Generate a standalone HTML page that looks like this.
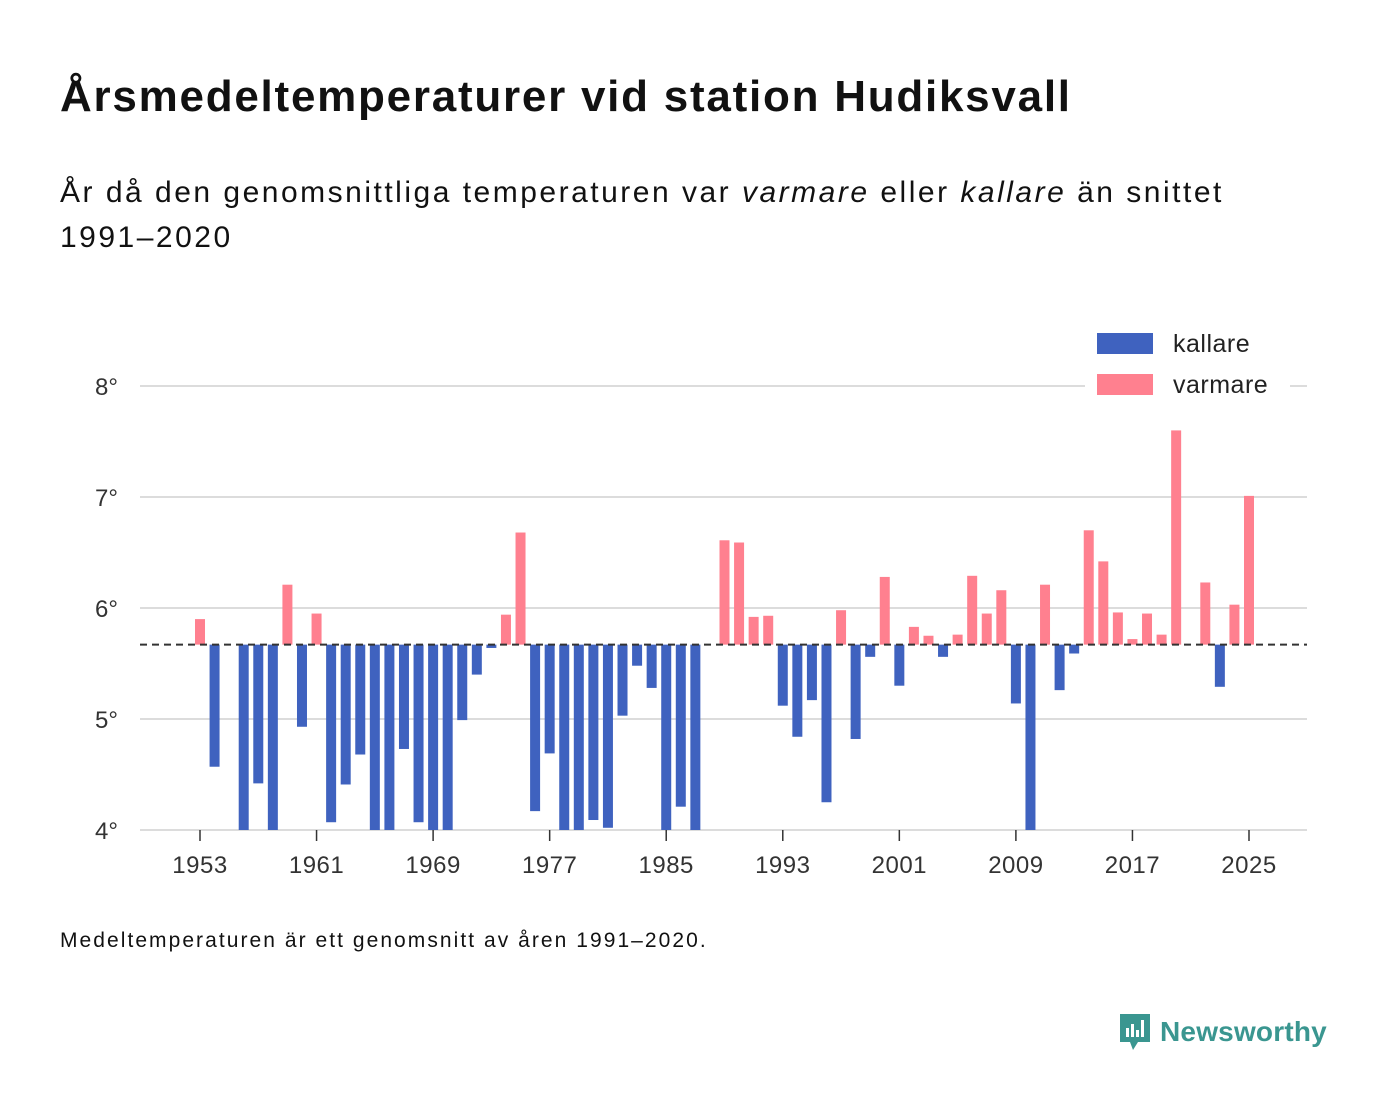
<!DOCTYPE html>
<html><head><meta charset="utf-8">
<style>
body{margin:0;background:#fff;width:1400px;height:1116px;overflow:hidden;font-family:"Liberation Sans","DejaVu Sans",sans-serif;color:#111;}
#title{position:absolute;left:60px;top:72px;font-size:44px;letter-spacing:1.75px;font-weight:bold;margin:0;color:#111;white-space:nowrap;}
#sub{position:absolute;left:60px;top:170px;font-size:30px;letter-spacing:2.5px;line-height:45px;width:1300px;margin:0;color:#111;}
#note{position:absolute;left:60px;top:929px;font-size:21px;letter-spacing:2.05px;color:#111;}
#logo{position:absolute;left:1118px;top:1012px;display:flex;align-items:center;gap:8px;color:#3a9690;font-weight:bold;font-size:28px;letter-spacing:0.2px;}
svg{position:absolute;left:0;top:0}
</style></head><body>
<h1 id="title">Årsmedeltemperaturer vid station Hudiksvall</h1>
<p id="sub">År då den genomsnittliga temperaturen var <i>varmare</i> eller <i>kallare</i> än snittet<br>1991–2020</p>
<svg id="chart" width="1400" height="1116"></svg>
<div id="note">Medeltemperaturen är ett genomsnitt av åren 1991–2020.</div>
<div id="logo">
<svg width="34" height="40" viewBox="0 0 34 40" style="position:static"><path d="M2 2h30v28H20l-5 8-3-8H2z" fill="#3a9690"/><rect x="8" y="16" width="3" height="9" fill="#fff"/><rect x="13" y="12" width="3" height="13" fill="#fff"/><rect x="18" y="18" width="3" height="7" fill="#fff"/><rect x="23" y="8" width="3" height="17" fill="#fff"/></svg>
<span>Newsworthy</span></div>
<script>
const years=[1953,1954,1956,1957,1958,1959,1960,1961,1962,1963,1964,1965,1966,1967,1968,1969,1970,1971,1972,1973,1974,1975,1976,1977,1978,1979,1980,1981,1982,1983,1984,1985,1986,1987,1989,1990,1991,1992,1993,1994,1995,1996,1997,1998,1999,2000,2001,2002,2003,2004,2005,2006,2007,2008,2009,2010,2011,2012,2013,2014,2015,2016,2017,2018,2019,2020,2022,2023,2024,2025];
const temps=[5.90,4.57,3.9,4.42,3.9,6.21,4.93,5.95,4.07,4.41,4.68,3.9,3.9,4.73,4.07,3.9,3.9,4.99,5.40,5.64,5.94,6.68,4.17,4.69,3.9,3.9,4.09,4.02,5.03,5.48,5.28,3.9,4.21,3.9,6.61,6.59,5.92,5.93,5.12,4.84,5.17,4.25,5.98,4.82,5.56,6.28,5.30,5.83,5.75,5.56,5.76,6.29,5.95,6.16,5.14,3.9,6.21,5.26,5.59,6.70,6.42,5.96,5.72,5.95,5.76,7.60,6.23,5.29,6.03,7.01];
const baseline=5.67;
const yTicks=[4,5,6,7,8];
const xTicks=[1953,1961,1969,1977,1985,1993,2001,2009,2017,2025];
const NS="http://www.w3.org/2000/svg";
const svg=document.getElementById('chart');
const L=140,R=1307;
const x=y=>200+(y-1953)*(1249-200)/72;
const yS=v=>830-(v-4)*111;
function mk(t,a,p){const e=document.createElementNS(NS,t);for(const k in a)e.setAttribute(k,a[k]);(p||svg).appendChild(e);return e;}
yTicks.forEach(v=>{
 const g=mk('line',{x1:L,x2:R,y1:yS(v),y2:yS(v),stroke:'#dcdcdc','stroke-width':2});
 
 
 const t=mk('text',{x:118,y:yS(v)+9,'text-anchor':'end','font-size':24,fill:'#333','font-family':'Liberation Sans, sans-serif'});
 t.textContent=v+'°';
 
 
});
xTicks.forEach(v=>{
 const l=mk('line',{x1:x(v),x2:x(v),y1:830,y2:841,stroke:'#333','stroke-width':1.5});
 
 
 const t=mk('text',{x:x(v),y:873,'text-anchor':'middle','font-size':24,'letter-spacing':0.5,fill:'#333','font-family':'Liberation Sans, sans-serif'});
 t.textContent=v;
 
 
});
years.forEach((yr,i)=>{
 const v=Math.max(temps[i],4),b=yS(baseline),t=yS(v);
 const r=mk('rect',{x:x(yr)-5,width:10,y:Math.min(b,t),height:Math.abs(b-t),fill:temps[i]>=baseline?'#ff808f':'#3f62bf'});
 
 
});
const bl=mk('line',{x1:L,x2:R,y1:yS(baseline),y2:yS(baseline),stroke:'#333','stroke-width':2,'stroke-dasharray':'7,5'});


const lb=mk('rect',{x:1085,y:325,width:205,height:80,fill:'#fff'});


[['kallare','#3f62bf',333],['varmare','#ff808f',374]].forEach(([n,c,yy])=>{
 const s=mk('rect',{x:1097,y:yy,width:56,height:21,fill:c});
 
 
 const t=mk('text',{x:1173,y:yy+19,'font-size':25,'letter-spacing':0.5,fill:'#222','font-family':'Liberation Sans, sans-serif'});
 t.textContent=n;
 
 
});
</script>
</body></html>
